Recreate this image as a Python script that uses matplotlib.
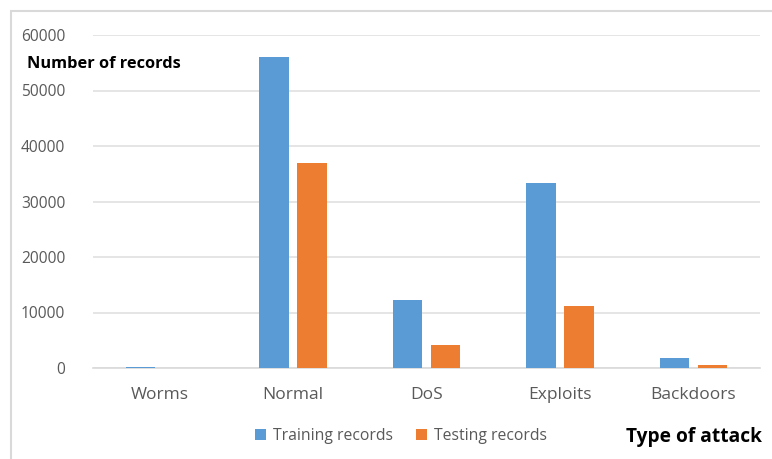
import matplotlib.pyplot as plt
from matplotlib.patches import Rectangle

# records per attack type (train / test split)
categorias = ['Worms', 'Normal', 'DoS', 'Exploits', 'Backdoors']
treino = [130, 56000, 12264, 33393, 1746]
teste = [44, 37000, 4089, 11132, 583]

azul = '#5B9BD5'
laranja = '#ED7D31'
cinza = '#595959'

plt.rcParams['font.family'] = ['Open Sans', 'DejaVu Sans']

fig = plt.figure(figsize=(7.72, 4.59), dpi=100)
ax = fig.add_axes([93 / 772, 1 - 368 / 459, 667 / 772, 333 / 459])

x = list(range(len(categorias)))
larg = 0.22
desl = 0.1425
ax.bar([i - desl for i in x], treino, width=larg, color=azul, label='Training records', zorder=3)
ax.bar([i + desl for i in x], teste, width=larg, color=laranja, label='Testing records', zorder=3)

ax.set_xlim(-0.5, len(categorias) - 0.5)
ax.set_ylim(0, 60000)
ax.set_yticks(range(0, 60001, 10000))
ax.set_xticks(x)
ax.set_xticklabels(categorias)
ax.tick_params(axis='both', length=0, colors=cinza)
ax.tick_params(axis='y', pad=20, labelsize=11.2)
ax.tick_params(axis='x', pad=14, labelsize=12.5)
ax.grid(axis='y', color='#e0e0e0', linewidth=1.2, zorder=0)
for s in ['top', 'right', 'left']:
    ax.spines[s].set_visible(False)
ax.spines['bottom'].set_color('#d9d9d9')
ax.spines['bottom'].set_linewidth(1.2)

fig.text(27 / 772, 1 - 64 / 459, 'Number of records', fontsize=11.8, fontweight='bold',
         color='black', va='center', ha='left')
fig.text(762 / 772, 1 - 437 / 459, 'Type of attack', fontsize=13.8, fontweight='bold',
         color='black', va='center', ha='right')

ax.legend(loc='center', bbox_to_anchor=(401 / 772, 1 - 436 / 459), bbox_transform=fig.transFigure,
          ncol=2, frameon=False, fontsize=11.3, labelcolor=cinza, handlelength=0.7,
          handleheight=0.7, handletextpad=0.4, columnspacing=1.5)

# moldura cinza em volta do grafico
fig.patches.append(Rectangle((11 / 772, -0.1), 1.2, 1 - 11.5 / 459 + 0.1, transform=fig.transFigure,
                             fill=False, edgecolor='#d9d9d9', linewidth=1.5))

fig.savefig('out.png', dpi=100)
